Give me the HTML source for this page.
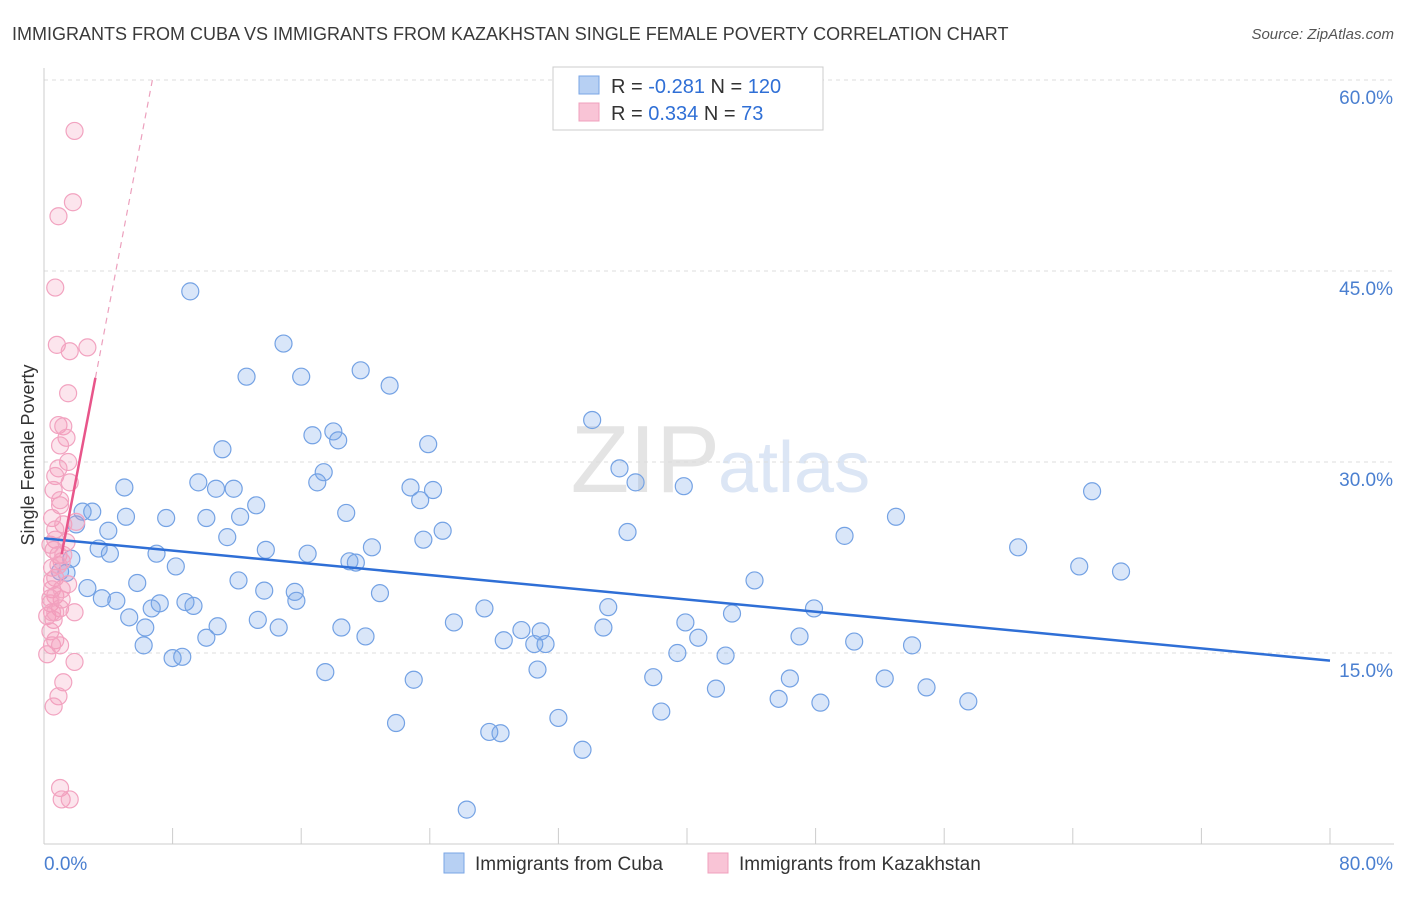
<!DOCTYPE html>
<html><head><meta charset="utf-8"><style>
body{margin:0;background:#fff;font-family:"Liberation Sans",sans-serif;}
svg text{font-family:"Liberation Sans",sans-serif;}
</style></head><body>
<svg id="chart" width="1406" height="892" viewBox="0 0 1406 892" xmlns="http://www.w3.org/2000/svg">
<text x="12" y="40" font-size="18" fill="#3a3a3a">IMMIGRANTS FROM CUBA VS IMMIGRANTS FROM KAZAKHSTAN SINGLE FEMALE POVERTY CORRELATION CHART</text>
<text x="1394" y="39" font-size="15" fill="#555" text-anchor="end" font-style="italic">Source: ZipAtlas.com</text>
<text x="720" y="492" font-size="96" fill="#e4e4e4" text-anchor="end" font-family="Liberation Serif">ZIP</text>
<text x="718" y="492" font-size="72" fill="#dce6f5">atlas</text>
<g id="grid"></g><g id="axes"></g><g id="pts"></g><g id="trends"></g>
<text transform="translate(34,455) rotate(-90)" font-size="18" fill="#333" text-anchor="middle">Single Female Poverty</text>
<g>
<rect x="553" y="67" width="270" height="63" fill="#fff" stroke="#ccc"/>
<rect x="579" y="76" width="20" height="18" fill="#b7d0f3" stroke="#7aa6e6"/>
<rect x="579" y="103" width="20" height="18" fill="#f9c4d6" stroke="#f0a0bd"/>
<text x="611" y="93" font-size="20" fill="#333">R = <tspan fill="#2f6fd6">-0.281</tspan>   N = <tspan fill="#2f6fd6">120</tspan></text>
<text x="611" y="120" font-size="20" fill="#333">R =  <tspan fill="#2f6fd6">0.334</tspan>   N =   <tspan fill="#2f6fd6">73</tspan></text>
</g>
<g>
<rect x="444" y="853" width="20" height="20" fill="#b7d0f3" stroke="#7aa6e6"/>
<text x="475" y="870" font-size="19" fill="#333">Immigrants from Cuba</text>
<rect x="708" y="853" width="20" height="20" fill="#f9c4d6" stroke="#f0a0bd"/>
<text x="739" y="870" font-size="19" fill="#333">Immigrants from Kazakhstan</text>
</g>
</svg>
<script>
const yTicks=[15,30,45,60];
const yTickLabels=["15.0%","30.0%","45.0%","60.0%"];
const xTickLabels=["0.0%","80.0%"];
const cubaX=[9.1,14.9,12.6,16.0,19.7,21.5,34.1,23.9,11.1,16.7,18.0,18.3,17.4,17.0,35.8,36.8,39.8,22.8,24.2,9.6,10.7,11.8,5.0,3.0,2.4,5.1,7.6,10.1,12.2,13.2,18.8,23.4,24.8,23.6,36.3,2.0,4.0,11.4,13.8,20.4,3.4,4.1,7.0,16.4,19.0,19.4,8.2,1.7,1.0,1.4,12.1,5.8,2.7,3.6,4.5,7.2,8.8,9.3,6.7,15.6,15.7,13.7,20.9,27.4,5.3,6.3,10.8,13.3,14.6,18.5,20.0,25.5,29.7,30.9,31.2,30.5,28.6,35.1,34.8,39.9,40.7,42.8,47.9,47.0,50.4,54.0,44.2,49.8,53.0,60.6,64.4,67.0,65.2,39.4,42.4,8.0,8.6,10.1,6.2,17.5,23.0,30.7,37.9,41.8,46.4,52.3,54.9,45.7,48.3,57.5,38.4,32.0,21.9,27.7,28.4,33.5,26.3];
const cubaY=[43.4,39.3,36.7,36.7,37.2,36.0,33.3,31.4,31.0,32.1,32.4,31.7,29.2,28.4,29.5,28.4,28.1,28.0,27.8,28.4,27.9,27.9,28.0,26.1,26.1,25.7,25.6,25.6,25.7,26.6,26.0,27.0,24.6,23.9,24.5,25.1,24.6,24.1,23.1,23.3,23.2,22.8,22.8,22.8,22.2,22.1,21.8,22.4,21.4,21.3,20.7,20.5,20.1,19.3,19.1,18.9,19.0,18.7,18.5,19.8,19.1,19.9,19.7,18.5,17.8,17.0,17.1,17.6,17.0,17.0,16.3,17.4,16.8,16.7,15.7,15.7,16.0,18.6,17.0,17.4,16.2,18.1,18.5,16.3,15.9,15.6,20.7,24.2,25.7,23.3,21.8,21.4,27.7,15.0,14.8,14.6,14.7,16.2,15.6,13.5,12.9,13.7,13.1,12.2,13.0,13.0,12.3,11.4,11.1,11.2,10.4,9.9,9.5,8.8,8.7,7.4,2.7];
const kazX=[1.9,1.8,0.9,0.7,0.8,1.6,2.7,1.5,0.9,1.2,1.4,1.0,1.5,0.9,0.7,1.6,0.6,1.0,0.5,1.2,2.0,0.7,1.4,0.6,0.9,1.1,0.5,0.7,1.5,0.5,0.7,1.1,0.4,1.0,1.9,0.2,0.6,0.4,0.7,0.5,1.0,0.2,1.9,1.2,0.9,0.6,1.0,1.1,1.6,0.5,0.7,0.4,1.1,0.5,0.9,1.2,0.4,0.7,1.0];
const kazY=[56.0,50.4,49.3,43.7,39.2,38.7,39.0,35.4,32.9,32.8,31.9,31.3,30.0,29.5,28.9,28.4,27.8,26.6,25.6,25.1,25.3,23.9,23.7,23.1,22.7,22.2,21.7,20.9,20.4,20.0,19.5,19.2,18.9,18.5,18.2,17.9,17.6,16.7,16.0,15.6,15.6,14.9,14.3,12.7,11.6,10.8,4.4,3.5,3.5,18.2,18.2,19.3,20.0,20.7,21.9,22.7,23.5,24.7,27.0];
const cubaTrend=[24.0,14.4];      // y at x=0 and x=80
const kazTrend=[15.5,6.6];        // intercept, slope
const NS="http://www.w3.org/2000/svg";
const X0=44,X1=1330,Y0=844,Y1=80;
const sx=v=>X0+(v/80)*(X1-X0);
const sy=v=>Y0-(v/60)*(Y0-Y1);
function mk(t,a,p){const e=document.createElementNS(NS,t);for(const k in a)e.setAttribute(k,a[k]);p.appendChild(e);return e;}
const grid=document.getElementById('grid'),axes=document.getElementById('axes'),pts=document.getElementById('pts'),tr=document.getElementById('trends');
yTicks.forEach((t,i)=>{
 const l=mk('line',{x1:X0,x2:1394,y1:sy(t),y2:sy(t),stroke:'#ddd','stroke-dasharray':'4,4'},grid);
 
 
 const tx=mk('text',{x:1393,y:sy(t)+24,'font-size':19,fill:'#4a7fd0','text-anchor':'end'},axes);
 tx.textContent=yTickLabels[i];
 
 
});
const ax=mk('line',{x1:X0,x2:1394,y1:Y0,y2:Y0,stroke:'#ccc'},axes);


const ay=mk('line',{x1:X0,x2:X0,y1:68,y2:Y0,stroke:'#ccc'},axes);


for(let i=1;i<=10;i++){const tk=mk('line',{x1:sx(i*8),x2:sx(i*8),y1:Y0-16,y2:Y0,stroke:'#ccc'},axes);
 
 }
[[0,'start',44],[80,'end',1393]].forEach((d,i)=>{const t=mk('text',{x:d[2],y:870,'font-size':19,fill:'#4a7fd0','text-anchor':d[1]},axes);t.textContent=xTickLabels[i];
 
 });
cubaX.forEach((x,i)=>{const c=mk('circle',{cx:sx(x),cy:sy(cubaY[i]),r:8.5,fill:'rgba(120,165,235,0.28)',stroke:'#74a2e4','stroke-width':1.2},pts);
 
 });
kazX.forEach((x,i)=>{const c=mk('circle',{cx:sx(x),cy:sy(kazY[i]),r:8.5,fill:'rgba(245,150,185,0.25)',stroke:'#f2a3c0','stroke-width':1.2},pts);
 
 });
const bl=mk('line',{x1:sx(0),y1:sy(cubaTrend[0]),x2:sx(80),y2:sy(cubaTrend[1]),stroke:'#2f6fd6','stroke-width':2.5},tr);


const kf=x=>kazTrend[0]+kazTrend[1]*x;
const xEnd=(60-kazTrend[0])/kazTrend[1];
const pl=mk('line',{x1:sx(1.1),y1:sy(kf(1.1)),x2:sx(3.2),y2:sy(kf(3.2)),stroke:'#e8558a','stroke-width':2.5},tr);


const pd=mk('line',{x1:sx(3.2),y1:sy(kf(3.2)),x2:sx(xEnd),y2:sy(60),stroke:'#eca0bd','stroke-width':1.2,'stroke-dasharray':'6,5'},tr);


</script>
</body></html>
